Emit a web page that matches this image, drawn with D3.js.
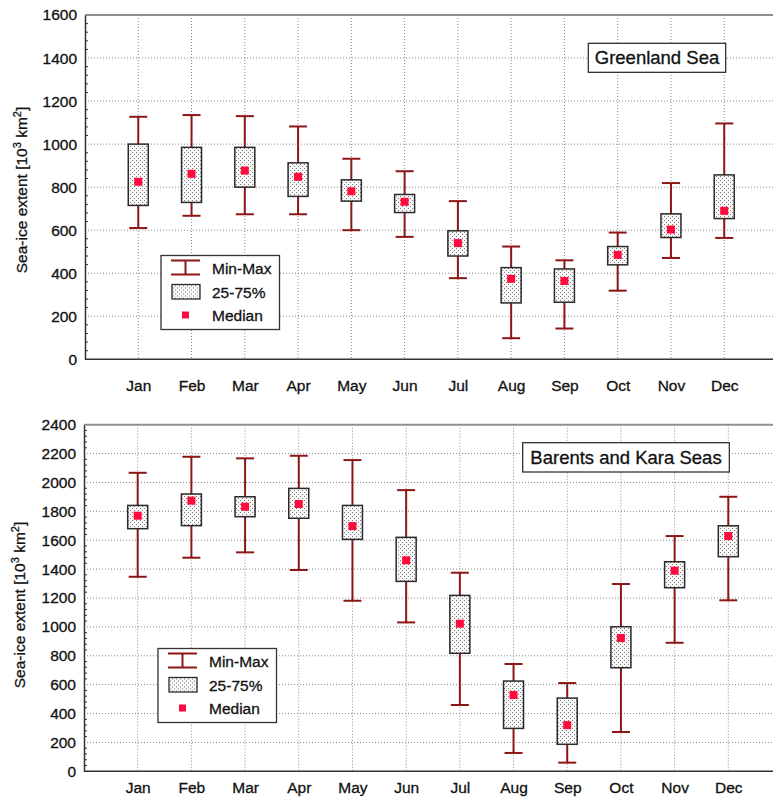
<!DOCTYPE html>
<html>
<head>
<meta charset="utf-8">
<script src="https://cdn.jsdelivr.net/npm/d3@7/dist/d3.min.js"></script>
<style>
  html, body { margin: 0; padding: 0; background: #fff; }
  svg { display: block; font-family: Arial, "Liberation Sans", sans-serif; }
  .txt { stroke: #111; stroke-width: 0.3px; }
</style>
</head>
<body>
<svg id="chart" width="773" height="799"></svg>
<script>
// Monthly sea-ice extent statistics (10^3 km^2)
const months = ["Jan", "Feb", "Mar", "Apr", "May", "Jun", "Jul", "Aug", "Sep", "Oct", "Nov", "Dec"];

const greenlandMin    = [610, 667, 674, 674, 600, 569, 377,  98, 143, 319, 471, 564];
const greenlandQ25    = [715, 729, 800, 757, 735, 682, 480, 262, 265, 439, 566, 654];
const greenlandMedian = [825, 862, 877, 848, 781, 732, 540, 374, 364, 485, 603, 690];
const greenlandQ75    = [1000, 985, 985, 913, 834, 766, 597, 426, 420, 524, 676, 857];
const greenlandMax    = [1127, 1135, 1130, 1082, 932, 874, 735, 524, 460, 589, 819, 1096];
const greenlandTicks  = [0, 200, 400, 600, 800, 1000, 1200, 1400, 1600];

const barentsMin    = [1347, 1479, 1516, 1394, 1181, 1031, 459, 127,  60, 272,  890, 1184];
const barentsQ25    = [1680, 1701, 1763, 1752, 1606, 1315, 817, 297, 187, 717, 1271, 1486];
const barentsMedian = [1770, 1874, 1832, 1851, 1698, 1461, 1022, 528, 320, 923, 1389, 1629];
const barentsQ75    = [1841, 1920, 1901, 1959, 1841, 1620, 1218, 625, 507, 1001, 1451, 1700];
const barentsMax    = [2067, 2178, 2167, 2185, 2155, 1947, 1375, 743, 611, 1297, 1629, 1901];
const barentsTicks  = [0, 200, 400, 600, 800, 1000, 1200, 1400, 1600, 1800, 2000, 2200, 2400];

const legendLabels = ["Min-Max", "25-75%", "Median"];

const whiskerColor = "#8c1515";
const medianColor = "#ff0a3c";

const svg = d3.select("#chart");

// stippled fill for the interquartile boxes
const defs = svg.append("defs");
const pat = defs.append("pattern")
  .attr("id", "stipple").attr("patternUnits", "userSpaceOnUse")
  .attr("width", 4).attr("height", 4);
pat.append("rect").attr("width", 4).attr("height", 4).attr("fill", "#f8f8f8");
pat.append("rect").attr("x", 0).attr("y", 0).attr("width", 1).attr("height", 1).attr("fill", "#7a7a7a");
pat.append("rect").attr("x", 2).attr("y", 2).attr("width", 1).attr("height", 1).attr("fill", "#7a7a7a");

function drawPanel(opt) {
  const rows = months.map((m, i) => ({
    month: m, pos: i + 1,
    min: opt.min[i], q25: opt.q25[i], med: opt.median[i], q75: opt.q75[i], max: opt.max[i]
  }));

  const x = d3.scaleLinear().domain([0, 13]).range([opt.left, opt.right]);
  const y = d3.scaleLinear().domain([0, opt.yMax]).range([opt.bottom, opt.top]);
  const g = svg.append("g");

  // dotted grid
  g.append("g").selectAll("line").data(opt.ticks.filter(t => t > 0 && t < opt.yMax)).join("line")
    .attr("x1", opt.left).attr("x2", 773)
    .attr("y1", d => y(d)).attr("y2", d => y(d))
    .attr("stroke", "#8a8a8a").attr("stroke-width", 1).attr("stroke-dasharray", "1,2");
  g.append("g").selectAll("line").data(rows).join("line")
    .attr("x1", d => x(d.pos)).attr("x2", d => x(d.pos))
    .attr("y1", opt.top).attr("y2", opt.bottom)
    .attr("stroke", "#8a8a8a").attr("stroke-width", 1).attr("stroke-dasharray", "1,2");

  // frame: top border, left and bottom axes
  g.append("line").attr("x1", opt.left).attr("x2", 773).attr("y1", opt.top).attr("y2", opt.top)
    .attr("stroke", "#8f8f8f").attr("stroke-width", 2);

  const yAxis = d3.axisLeft(y).tickValues(opt.ticks).tickSize(0).tickPadding(8).tickFormat(d3.format("d"));
  const ya = g.append("g").attr("transform", `translate(${opt.left},0)`).call(yAxis);
  ya.select(".domain").attr("stroke", "#333").attr("stroke-width", 1.5);
  ya.selectAll("text").attr("class", "txt").attr("font-size", "15.5px").attr("fill", "#111")
    .attr("font-family", "Arial, 'Liberation Sans', sans-serif");

  // small inward minor ticks
  const minors = d3.range(0, opt.yMax + 1, opt.minorStep).filter(v => v % 200 !== 0);
  g.append("g").selectAll("line").data(minors).join("line")
    .attr("x1", opt.left).attr("x2", opt.left + 3)
    .attr("y1", d => y(d)).attr("y2", d => y(d))
    .attr("stroke", "#333").attr("stroke-width", 1);

  g.append("line").attr("x1", opt.left).attr("x2", 773).attr("y1", opt.bottom).attr("y2", opt.bottom)
    .attr("stroke", "#333").attr("stroke-width", 1.5);

  const xAxis = d3.axisBottom(x).tickValues(rows.map(d => d.pos))
    .tickFormat(d => months[d - 1]).tickSize(0).tickPadding(opt.xLabelPad);
  const xa = g.append("g").attr("transform", `translate(0,${opt.bottom})`).call(xAxis);
  xa.select(".domain").remove();
  xa.selectAll("text").attr("class", "txt").attr("font-size", "15.5px").attr("fill", "#111")
    .attr("font-family", "Arial, 'Liberation Sans', sans-serif");

  // y-axis title with superscripts
  const yt = g.append("text").attr("class", "txt")
    .attr("transform", `translate(${opt.titleX},${opt.titleY}) rotate(-90)`)
    .attr("text-anchor", "middle").attr("font-size", "15.5px").attr("fill", "#111");
  yt.append("tspan").text("Sea-ice extent [10");
  yt.append("tspan").attr("baseline-shift", "super").attr("font-size", "11px").text("3");
  yt.append("tspan").text(" km");
  yt.append("tspan").attr("baseline-shift", "super").attr("font-size", "11px").text("2");
  yt.append("tspan").text("]");

  const boxW = 20, capW = 18, medS = 8;

  // whiskers
  const wh = g.append("g").attr("stroke", whiskerColor).attr("stroke-width", 2).attr("fill", "none");
  wh.selectAll(".stem").data(rows).join("line").attr("class", "stem")
    .attr("x1", d => x(d.pos)).attr("x2", d => x(d.pos))
    .attr("y1", d => y(d.min)).attr("y2", d => y(d.max));
  wh.selectAll(".capmax").data(rows).join("line").attr("class", "capmax")
    .attr("x1", d => x(d.pos) - capW / 2).attr("x2", d => x(d.pos) + capW / 2)
    .attr("y1", d => y(d.max)).attr("y2", d => y(d.max));
  wh.selectAll(".capmin").data(rows).join("line").attr("class", "capmin")
    .attr("x1", d => x(d.pos) - capW / 2).attr("x2", d => x(d.pos) + capW / 2)
    .attr("y1", d => y(d.min)).attr("y2", d => y(d.min));

  // interquartile boxes
  g.append("g").selectAll("rect").data(rows).join("rect")
    .attr("x", d => x(d.pos) - boxW / 2).attr("width", boxW)
    .attr("y", d => y(d.q75)).attr("height", d => y(d.q25) - y(d.q75))
    .attr("fill", "url(#stipple)").attr("stroke", "#2a2a2a").attr("stroke-width", 1.5);

  // medians
  g.append("g").selectAll("rect").data(rows).join("rect")
    .attr("x", d => x(d.pos) - medS / 2).attr("y", d => y(d.med) - medS / 2)
    .attr("width", medS).attr("height", medS).attr("fill", medianColor);

  // panel title box
  const tb = opt.titleBox;
  g.append("rect").attr("x", tb.x).attr("y", tb.y).attr("width", tb.w).attr("height", tb.h)
    .attr("fill", "#fff").attr("stroke", "#222").attr("stroke-width", 1.2);
  g.append("text").attr("class", "txt").attr("x", tb.x + tb.w / 2).attr("y", tb.y + tb.h / 2 + 6.5)
    .attr("text-anchor", "middle").attr("font-size", "18.5px").attr("fill", "#111").text(opt.title);

  // legend
  const lg = opt.legend;
  const L = g.append("g").attr("transform", `translate(${lg.x},${lg.y})`);
  L.append("rect").attr("width", 118.5).attr("height", 74).attr("fill", "#fff")
    .attr("stroke", "#333").attr("stroke-width", 1.3);
  const sx = 10, sw = 29, cx = sx + sw / 2;
  const ls = L.append("g").attr("stroke", whiskerColor).attr("stroke-width", 2);
  ls.append("line").attr("x1", sx).attr("x2", sx + sw).attr("y1", 5).attr("y2", 5);
  ls.append("line").attr("x1", sx).attr("x2", sx + sw).attr("y1", 19).attr("y2", 19);
  ls.append("line").attr("x1", cx).attr("x2", cx).attr("y1", 5).attr("y2", 19);
  L.append("rect").attr("x", sx + 1).attr("y", 29).attr("width", sw - 1).attr("height", 14.5)
    .attr("fill", "url(#stipple)").attr("stroke", "#2a2a2a").attr("stroke-width", 1.3);
  L.append("rect").attr("x", cx - 3.5).attr("y", 56).attr("width", 7).attr("height", 7).attr("fill", medianColor);
  L.selectAll("text.lab").data(legendLabels).join("text").attr("class", "lab txt")
    .attr("x", 51).attr("y", (d, i) => 18.5 + i * 23.5)
    .attr("font-size", "15.5px").attr("fill", "#111").text(d => d);
}

drawPanel({
  left: 85, right: 777.5, top: 15, bottom: 359.3, yMax: 1600, minorStep: 40,
  ticks: greenlandTicks, xLabelPad: 21,
  min: greenlandMin, q25: greenlandQ25, median: greenlandMedian, q75: greenlandQ75, max: greenlandMax,
  titleX: 27, titleY: 190,
  title: "Greenland Sea", titleBox: { x: 588.3, y: 43.3, w: 137.4, h: 29 },
  legend: { x: 161, y: 255.5 }
});

drawPanel({
  left: 84, right: 782, top: 424.7, bottom: 771.3, yMax: 2400, minorStep: 40,
  ticks: barentsTicks, xLabelPad: 11,
  min: barentsMin, q25: barentsQ25, median: barentsMedian, q75: barentsQ75, max: barentsMax,
  titleX: 25, titleY: 605,
  title: "Barents and Kara Seas", titleBox: { x: 522.7, y: 442.7, w: 206.6, h: 29.3 },
  legend: { x: 158, y: 648.5 }
});
</script>
</body>
</html>
